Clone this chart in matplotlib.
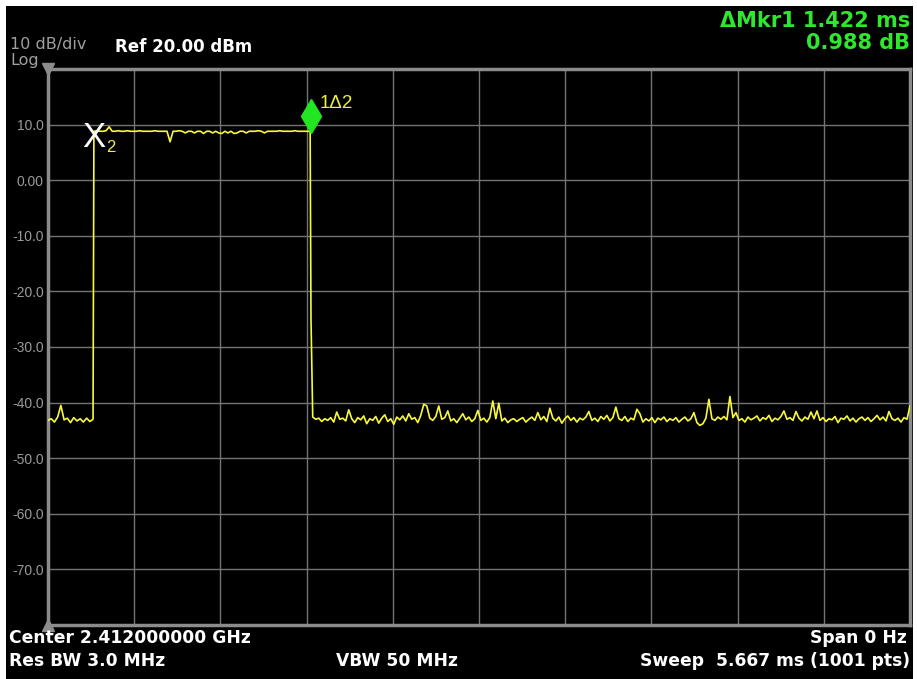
import numpy as np
import matplotlib.pyplot as plt
from matplotlib.patches import Rectangle
from matplotlib.transforms import offset_copy

# sweep settings (zero span, time axis in ms)
sweep_ms = 5.667
ref_level = 20.0
db_per_div = 10.0
t_rise = 0.299
t_fall = 1.729
fall_mid_db = -25.0

# trace levels (dBm)
noise_before = [-43.2, -42.9, -43.5, -42.6, -40.5, -43.1, -42.8, -43.6, -42.7, -43.3,
                -42.9, -43.5, -42.8, -43.4, -43.0]
burst = [8.8, 8.9, 8.8, 8.8, 8.9, 9.6, 8.8, 8.8, 8.9, 8.8,
         8.8, 8.9, 8.8, 8.8, 8.8, 8.9, 8.8, 8.8, 8.8, 8.8,
         8.9, 8.8, 8.8, 8.8, 8.8, 6.9, 8.8, 8.8, 8.9, 8.8,
         8.5, 8.8, 8.8, 8.5, 8.8, 8.8, 8.4, 8.8, 8.8, 8.5,
         8.8, 8.5, 8.4, 8.8, 8.5, 8.8, 8.4, 8.5, 8.8, 8.8,
         8.5, 8.8, 8.8, 8.8, 8.9, 8.8, 8.5, 8.8, 8.8, 8.8,
         8.8, 8.9, 8.8, 8.8, 8.8, 8.8, 8.9, 8.8, 8.8, 8.8,
         8.8, 8.8]
noise_after = [-42.6, -43.0, -42.8, -43.4, -42.9, -43.2, -42.7, -43.5, -41.7, -43.0,
               -42.8, -43.3, -41.3, -42.9, -43.6, -42.7, -43.1, -42.4, -43.8, -42.9,
               -43.2, -42.5, -43.7, -42.8, -42.2, -43.4, -42.9, -43.9, -42.6, -43.1,
               -42.4, -43.3, -42.0, -43.0, -42.7, -43.6, -42.3, -40.3, -40.6, -42.8,
               -43.2, -42.5, -40.6, -43.0, -42.7, -41.5, -43.3, -42.9, -43.6, -42.8,
               -42.0, -43.1, -42.6, -43.4, -42.9, -41.4, -43.2, -42.8, -43.5, -42.7,
               -39.7, -42.9, -40.1, -43.3, -42.8, -43.6, -43.1, -42.9, -43.4, -43.0,
               -42.7, -43.5, -43.0, -42.6, -43.2, -41.8, -43.1, -42.5, -43.4, -41.0,
               -42.8, -43.3, -42.6, -43.7, -42.9, -42.4, -43.2, -42.7, -43.5, -42.8,
               -43.1, -42.6, -41.6, -43.2, -42.8, -43.4, -42.5, -43.0, -42.3, -43.3,
               -42.7, -40.8, -42.9, -43.2, -42.5, -43.4, -42.8, -43.1, -41.2, -42.0,
               -43.5, -42.9, -43.3, -42.7, -43.6, -42.8, -43.1, -42.6, -43.4, -42.9,
               -43.2, -42.7, -43.5, -43.0, -42.6, -43.3, -42.9, -41.8, -43.6, -44.1,
               -43.8, -42.8, -39.4, -42.9, -43.2, -42.6, -43.0, -42.5, -43.1, -38.9,
               -42.7, -41.8, -43.2, -42.9, -43.5, -42.6, -43.1, -42.8, -42.4, -43.3,
               -42.7, -43.0, -42.3, -43.4, -42.8, -43.1, -42.5, -41.5, -43.0, -42.7,
               -43.2, -41.6, -42.8, -43.3, -42.6, -43.0, -41.7, -42.9, -41.5, -43.2,
               -42.7, -43.4, -42.9, -43.1, -42.5, -43.6, -42.8, -43.0, -42.4, -43.3,
               -42.8, -43.5, -42.9, -42.6, -43.2, -42.7, -43.4, -42.9, -42.3, -43.1,
               -42.6, -43.3, -41.6, -42.9, -43.2, -42.8, -43.5, -42.7, -43.0, -40.6]

mkr1_t = 1.729
mkr2_t = mkr1_t - 1.422
mkr_db = 8.8

ytick_vals = [10, 0, -10, -20, -30, -40, -50, -60, -70]
ytick_text = ['10.0', '0.00', '-10.0', '-20.0', '-30.0', '-40.0', '-50.0', '-60.0', '-70.0']

step = sweep_ms / 1000.0
t_before = np.linspace(0, t_rise - step / 2, len(noise_before))
t_burst = np.linspace(t_rise + step / 2, t_fall - step, len(burst))
t_after = np.linspace(t_fall + 2 * step, sweep_ms, len(noise_after))
t = np.concatenate([t_before, t_burst, [t_fall], t_after])
lvl = np.concatenate([noise_before, burst, [fall_mid_db], noise_after])

W, H = 917, 679
fig = plt.figure(figsize=(W / 100, H / 100), dpi=100, facecolor='white')
fig.patches.append(Rectangle((6 / W, 0), 907 / W, 673 / H, transform=fig.transFigure,
                             facecolor='black', edgecolor='none', zorder=-5))
ax = fig.add_axes([48 / W, (H - 625) / H, 862 / W, 556 / H])
ax.set_facecolor('black')

bottom_db = ref_level - 10 * db_per_div
ax.set_xlim(0, sweep_ms)
ax.set_ylim(bottom_db, ref_level)
ax.set_xticks(np.linspace(0, sweep_ms, 11))
ax.set_xticklabels([])
ax.set_yticks(ytick_vals)
ax.set_yticklabels(ytick_text)
ax.tick_params(length=0, pad=3, colors='#9a9a9a', labelsize=10)
for lab in ax.get_yticklabels():
    lab.set_family('Liberation Sans')
ax.grid(True, color='#747474', linewidth=1)
ax.set_axisbelow(True)
for sp in ax.spines.values():
    sp.set_color('#8c8c8c')
    sp.set_linewidth(2.5)

ax.plot(t, lvl, color='#f8f83c', linewidth=1.2, zorder=3)

# markers
up = offset_copy(ax.transData, fig=fig, x=0, y=15, units='dots')
ax.plot(mkr1_t, mkr_db, marker='d', color='#22e622', markersize=17, transform=up, zorder=5)
ax.annotate('1\u03942', (mkr1_t, mkr_db), xytext=(6, 20), textcoords='offset points',
            color='#f0f040', fontsize=13.5, va='center', ha='left', family='Liberation Sans')
ax.annotate('X', (mkr2_t, mkr_db), xytext=(-0.5, -4.5), textcoords='offset points',
            color='white', fontsize=25, va='center', ha='center', family='Liberation Sans')
ax.annotate('2', (mkr2_t, mkr_db), xytext=(11.5, -11.5), textcoords='offset points',
            color='#f0f040', fontsize=12, va='center', ha='center', family='Liberation Sans')

# reference triangles
ax.plot([0], [ref_level], marker='v', color='#8c8c8c', markersize=8, clip_on=False, zorder=6)
ax.plot([0], [bottom_db], marker='^', color='#8c8c8c', markersize=8, clip_on=False, zorder=6)

# annotations around the screen
fig.text(10 / W, 1 - 44 / H, '10 dB/div', color='#a0a0a0', fontsize=11.5, va='center')
fig.text(10 / W, 1 - 60 / H, 'Log', color='#a0a0a0', fontsize=11.5, va='center')
fig.text(115 / W, 1 - 47 / H, 'Ref 20.00 dBm', color='white', fontsize=12,
         fontweight='bold', va='center')
fig.text(910 / W, 1 - 21 / H, '\u0394Mkr1 1.422 ms', color='#2ee82e', fontsize=15,
         fontweight='bold', va='center', ha='right')
fig.text(910 / W, 1 - 43 / H, '0.988 dB', color='#2ee82e', fontsize=15,
         fontweight='bold', va='center', ha='right')

bottom_font = dict(color='white', fontsize=12.3, fontweight='bold', va='center')
fig.text(9 / W, 1 - 638 / H, 'Center 2.412000000 GHz', **bottom_font)
fig.text(907 / W, 1 - 638 / H, 'Span 0 Hz', ha='right', **bottom_font)
fig.text(9 / W, 1 - 661 / H, 'Res BW 3.0 MHz', **bottom_font)
fig.text(397 / W, 1 - 661 / H, 'VBW 50 MHz', ha='center', **bottom_font)
fig.text(910 / W, 1 - 661 / H, 'Sweep  5.667 ms (1001 pts)', ha='right', **bottom_font)

fig.savefig('out.png', dpi=100, facecolor=fig.get_facecolor())
